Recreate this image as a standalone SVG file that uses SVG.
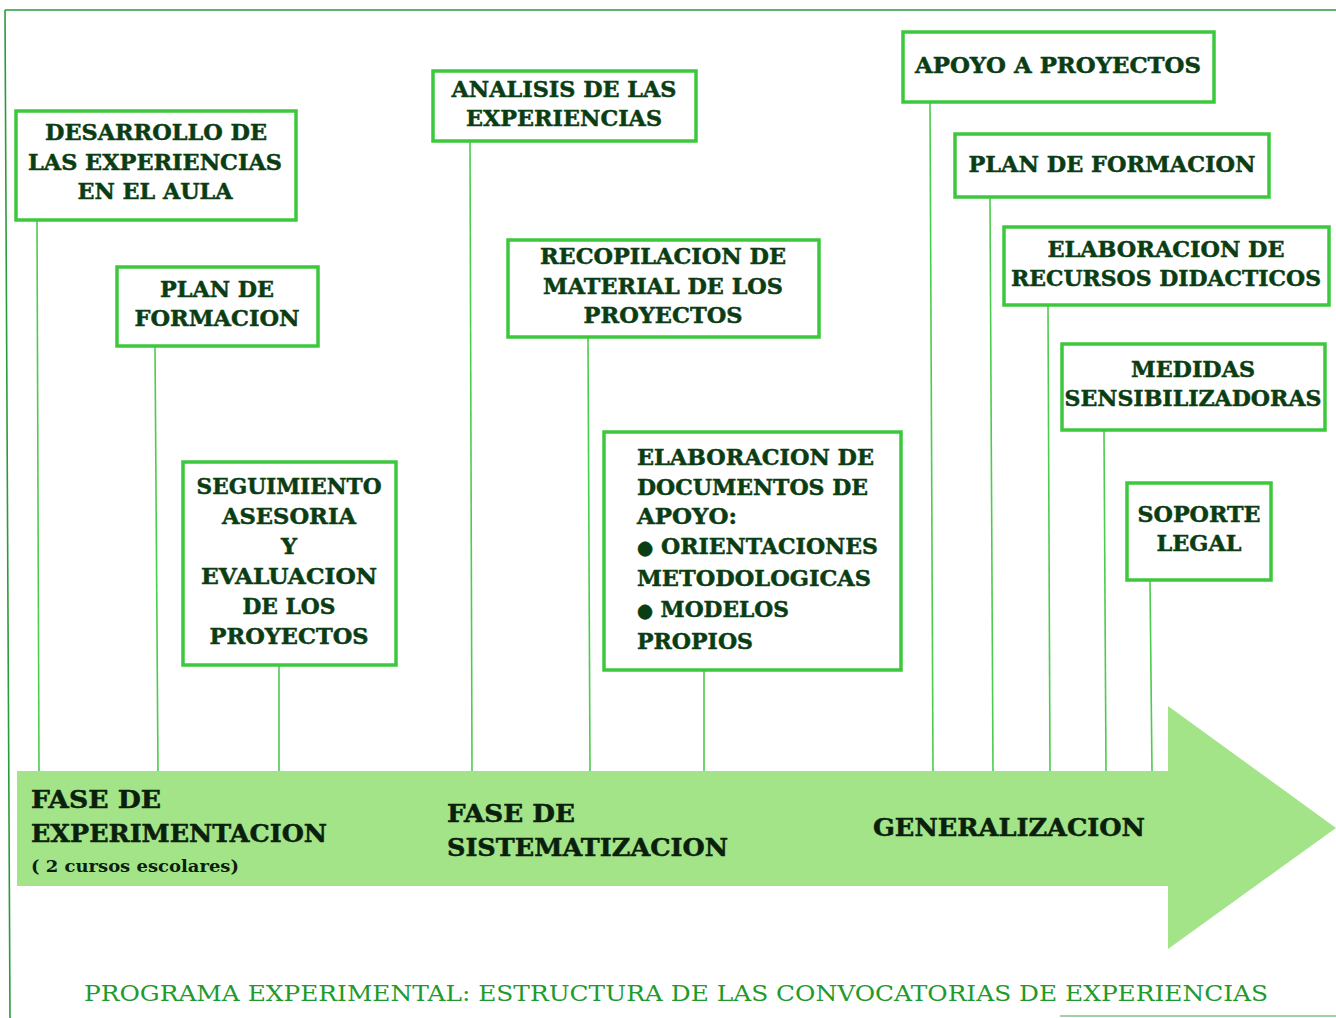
<svg xmlns="http://www.w3.org/2000/svg" width="1336" height="1018" viewBox="0 0 1336 1018">
<defs>
<style>
.box{fill:#ffffff;stroke:#3cc83c;stroke-width:3.5}
.conn{stroke:#4ccc4c;stroke-width:1.6;fill:none}
.t{font-family:"DejaVu Serif","Liberation Serif",serif;font-weight:bold;font-size:22.5px;fill:#0b3d14;stroke:#0b3d14;stroke-width:0.5;text-anchor:middle}
.tl{font-family:"DejaVu Serif","Liberation Serif",serif;font-weight:bold;font-size:22.5px;fill:#0b3d14;stroke:#0b3d14;stroke-width:0.5}
.ph{font-family:"DejaVu Serif","Liberation Serif",serif;font-weight:bold;font-size:24.5px;fill:#0a200c;stroke:#0a200c;stroke-width:0.5}
.sub{font-family:"DejaVu Serif","Liberation Serif",serif;font-weight:bold;font-size:17px;fill:#0a200c}
.cap{font-family:"DejaVu Serif","Liberation Serif",serif;font-size:23px;fill:#1f9a2c}
.frame{stroke:#2a9a3a;stroke-width:1.6;fill:none}
</style>
</defs>
<rect x="0" y="0" width="1336" height="1018" fill="#ffffff"/>
<g id="frame">
<path class="frame" d="M5,10 L1336,10 M5,10 L10,1018"/>
<path class="frame" d="M1060,1016 L1336,1016" stroke-opacity="0.6"/>
</g>
<g id="timeline-arrow">
<polygon points="17,771 1168,771 1168,706 1336,828 1168,949 1168,886 17,886" fill="#a3e489"/>
<text class="ph" x="31" y="808" textLength="130" lengthAdjust="spacingAndGlyphs">FASE DE</text>
<text class="ph" x="31" y="842" textLength="296" lengthAdjust="spacingAndGlyphs">EXPERIMENTACION</text>
<text class="sub" x="31" y="872" textLength="208" lengthAdjust="spacingAndGlyphs">( 2 cursos escolares)</text>
<text class="ph" x="447" y="822" textLength="128" lengthAdjust="spacingAndGlyphs">FASE DE</text>
<text class="ph" x="447" y="856" textLength="281" lengthAdjust="spacingAndGlyphs">SISTEMATIZACION</text>
<text class="ph" x="873" y="836" textLength="272" lengthAdjust="spacingAndGlyphs">GENERALIZACION</text>
</g>
<g id="connectors">
<line class="conn" x1="37" y1="221" x2="39" y2="771"/>
<line class="conn" x1="155" y1="346" x2="158" y2="771"/>
<line class="conn" x1="279" y1="663" x2="279" y2="771"/>
<line class="conn" x1="470" y1="141" x2="472" y2="771"/>
<line class="conn" x1="588" y1="338" x2="590" y2="771"/>
<line class="conn" x1="704" y1="670" x2="704" y2="771"/>
<line class="conn" x1="930" y1="102" x2="933" y2="771"/>
<line class="conn" x1="990" y1="197" x2="993" y2="771"/>
<line class="conn" x1="1048" y1="306" x2="1050" y2="771"/>
<line class="conn" x1="1104" y1="431" x2="1106" y2="771"/>
<line class="conn" x1="1150" y1="581" x2="1152" y2="771"/>
</g>
<g id="desarrollo">
<rect class="box" x="16" y="111" width="280" height="109"/>
<text class="t" x="156" y="140" textLength="222" lengthAdjust="spacingAndGlyphs">DESARROLLO DE</text>
<text class="t" x="155" y="170" textLength="254" lengthAdjust="spacingAndGlyphs">LAS EXPERIENCIAS</text>
<text class="t" x="155" y="199" textLength="155" lengthAdjust="spacingAndGlyphs">EN EL AULA</text>
</g>
<g id="plan-formacion-1">
<rect class="box" x="117" y="267" width="201" height="79"/>
<text class="t" x="217" y="297" textLength="114" lengthAdjust="spacingAndGlyphs">PLAN DE</text>
<text class="t" x="217" y="326" textLength="165" lengthAdjust="spacingAndGlyphs">FORMACION</text>
</g>
<g id="seguimiento">
<rect class="box" x="183" y="462" width="213" height="203"/>
<text class="t" x="289" y="494" textLength="185" lengthAdjust="spacingAndGlyphs">SEGUIMIENTO</text>
<text class="t" x="289" y="524" textLength="134" lengthAdjust="spacingAndGlyphs">ASESORIA</text>
<text class="t" x="289" y="554">Y</text>
<text class="t" x="289" y="584" textLength="176" lengthAdjust="spacingAndGlyphs">EVALUACION</text>
<text class="t" x="289" y="614" textLength="93" lengthAdjust="spacingAndGlyphs">DE LOS</text>
<text class="t" x="289" y="644" textLength="159" lengthAdjust="spacingAndGlyphs">PROYECTOS</text>
</g>
<g id="analisis">
<rect class="box" x="433" y="71" width="263" height="70"/>
<text class="t" x="564" y="97" textLength="225" lengthAdjust="spacingAndGlyphs">ANALISIS DE LAS</text>
<text class="t" x="564" y="126" textLength="196" lengthAdjust="spacingAndGlyphs">EXPERIENCIAS</text>
</g>
<g id="recopilacion">
<rect class="box" x="508" y="240" width="311" height="97"/>
<text class="t" x="663" y="264" textLength="246" lengthAdjust="spacingAndGlyphs">RECOPILACION DE</text>
<text class="t" x="663" y="294" textLength="240" lengthAdjust="spacingAndGlyphs">MATERIAL DE LOS</text>
<text class="t" x="663" y="323" textLength="159" lengthAdjust="spacingAndGlyphs">PROYECTOS</text>
</g>
<g id="elaboracion-documentos">
<rect class="box" x="604" y="432" width="297" height="238"/>
<text class="tl" x="637" y="465" textLength="237" lengthAdjust="spacingAndGlyphs">ELABORACION DE</text>
<text class="tl" x="637" y="495" textLength="231" lengthAdjust="spacingAndGlyphs">DOCUMENTOS DE</text>
<text class="tl" x="637" y="524" textLength="100" lengthAdjust="spacingAndGlyphs">APOYO:</text>
<text class="tl" x="637" y="554" textLength="241" lengthAdjust="spacingAndGlyphs"><tspan font-family="DejaVu Sans, sans-serif" font-size="19">●</tspan> ORIENTACIONES</text>
<text class="tl" x="637" y="586" textLength="234" lengthAdjust="spacingAndGlyphs">METODOLOGICAS</text>
<text class="tl" x="637" y="617" textLength="152" lengthAdjust="spacingAndGlyphs"><tspan font-family="DejaVu Sans, sans-serif" font-size="19">●</tspan> MODELOS</text>
<text class="tl" x="637" y="649" textLength="116" lengthAdjust="spacingAndGlyphs">PROPIOS</text>
</g>
<g id="apoyo-proyectos">
<rect class="box" x="903" y="32" width="311" height="70"/>
<text class="t" x="1058" y="73" textLength="286" lengthAdjust="spacingAndGlyphs">APOYO A PROYECTOS</text>
</g>
<g id="plan-formacion-2">
<rect class="box" x="955" y="134" width="314" height="63"/>
<text class="t" x="1112" y="172" textLength="287" lengthAdjust="spacingAndGlyphs">PLAN DE FORMACION</text>
</g>
<g id="recursos-didacticos">
<rect class="box" x="1004" y="227" width="325" height="78"/>
<text class="t" x="1166" y="257" textLength="237" lengthAdjust="spacingAndGlyphs">ELABORACION DE</text>
<text class="t" x="1166" y="286" textLength="310" lengthAdjust="spacingAndGlyphs">RECURSOS DIDACTICOS</text>
</g>
<g id="medidas">
<rect class="box" x="1062" y="344" width="263" height="86"/>
<text class="t" x="1193" y="377" textLength="124" lengthAdjust="spacingAndGlyphs">MEDIDAS</text>
<text class="t" x="1193" y="406" textLength="257" lengthAdjust="spacingAndGlyphs">SENSIBILIZADORAS</text>
</g>
<g id="soporte">
<rect class="box" x="1127" y="483" width="144" height="97"/>
<text class="t" x="1199" y="522" textLength="123" lengthAdjust="spacingAndGlyphs">SOPORTE</text>
<text class="t" x="1199" y="551" textLength="85" lengthAdjust="spacingAndGlyphs">LEGAL</text>
</g>
<g id="caption">
<text class="cap" x="84" y="1001" textLength="1184" lengthAdjust="spacingAndGlyphs">PROGRAMA EXPERIMENTAL: ESTRUCTURA DE LAS CONVOCATORIAS DE EXPERIENCIAS</text>
</g>
</svg>
